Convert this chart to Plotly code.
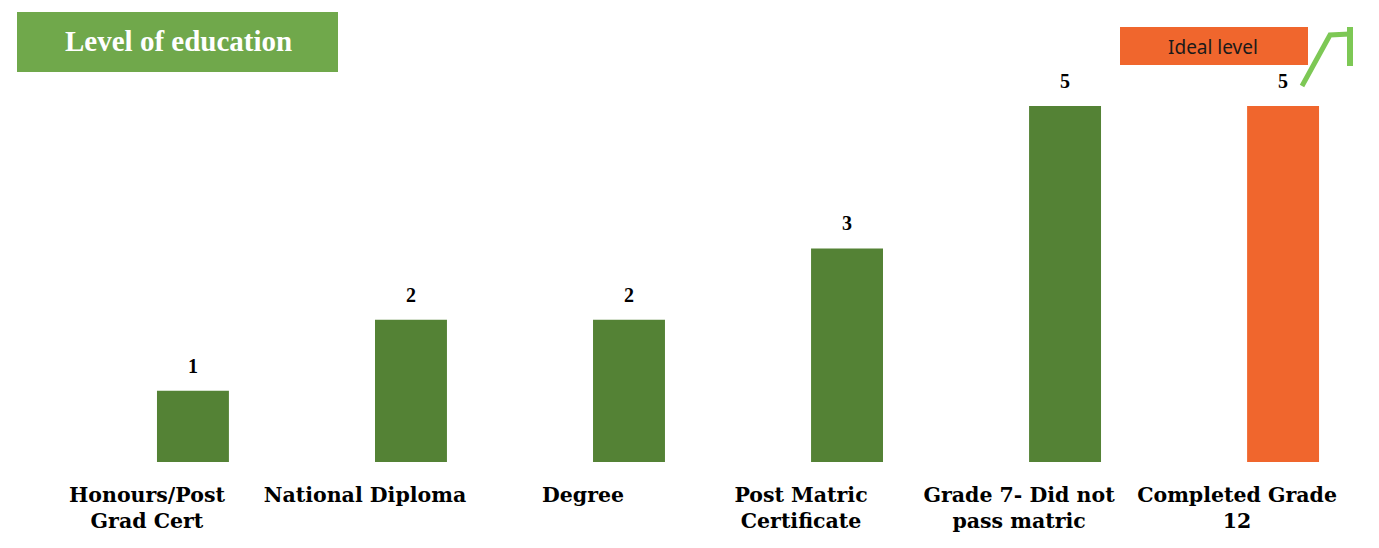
import plotly.graph_objects as go

categories = ["Honours/Post<br>Grad Cert", "National Diploma", "Degree",
              "Post Matric<br>Certificate", "Grade 7- Did not<br>pass matric",
              "Completed Grade<br>12"]
values = [1, 2, 2, 3, 5, 5]
bar_colors = ["#548235", "#548235", "#548235", "#548235", "#548235", "#F0662D"]
title_text = "Level of education"
ideal_text = "Ideal level"

W, H = 1379, 548
B = 86
PH = H - B
serif = "Liberation Serif, Times New Roman, serif"
wide_serif = "DejaVu Serif, serif"

xs = list(range(len(categories)))

fig = go.Figure(go.Bar(
    x=xs, y=values,
    marker=dict(color=bar_colors, line=dict(width=0)),
    width=0.33,
    cliponaxis=False,
))

for x, v in zip(xs, values):
    fig.add_annotation(x=x, y=v, xref="x", yref="y", text=f"<b>{v}</b>",
                       showarrow=False, yanchor="bottom", yshift=12,
                       font=dict(family=serif, size=20, color="#000000"))

fig.update_layout(
    width=W, height=H,
    margin=dict(l=0, r=0, t=0, b=B),
    paper_bgcolor="white", plot_bgcolor="white",
    showlegend=False,
    xaxis=dict(range=[-0.885, 5.44], tickmode="array",
               tickvals=xs,
               ticktext=[f"<b>{t.replace('<br>', '</b><br><b>')}</b>" for t in categories],
               tickfont=dict(family=wide_serif, size=20.5, color="#000000"),
               showgrid=False, zeroline=False, showline=False,
               ticks="outside", ticklen=14, tickcolor="rgba(0,0,0,0)",
               tickangle=0, ticklabelshift=-46),
    yaxis=dict(range=[0, 6.49], visible=False, showgrid=False, zeroline=False),
)

def px(x):
    return x / W

def py(y):
    return 1 - y / PH

shapes = [
    dict(type="rect", xref="paper", yref="paper",
         x0=px(17), x1=px(338), y0=py(72), y1=py(12),
         fillcolor="#70A84B", line=dict(width=0), layer="above"),
    dict(type="rect", xref="paper", yref="paper",
         x0=px(1120), x1=px(1308), y0=py(65), y1=py(27),
         fillcolor="#F0662D", line=dict(width=0), layer="above"),
    dict(type="path", xref="paper", yref="paper",
         path=f"M {px(1302)} {py(86)} L {px(1330)} {py(35)} L {px(1350)} {py(34)}",
         line=dict(color="#7DC855", width=5), layer="above"),
    dict(type="line", xref="paper", yref="paper",
         x0=px(1350), x1=px(1350), y0=py(27), y1=py(66),
         line=dict(color="#7DC855", width=6), layer="above"),
]
fig.update_layout(shapes=shapes)

fig.add_annotation(xref="paper", yref="paper", x=px(178), y=py(41),
                   text=f"<b>{title_text}</b>", showarrow=False,
                   font=dict(family=serif, size=29, color="white"),
                   xanchor="center", yanchor="middle")
fig.add_annotation(xref="paper", yref="paper", x=px(1213), y=py(47),
                   text=ideal_text, showarrow=False,
                   font=dict(family="Noto Sans, sans-serif", size=19, color="#1a1a1a"),
                   xanchor="center", yanchor="middle")

fig.write_html("out.html")
